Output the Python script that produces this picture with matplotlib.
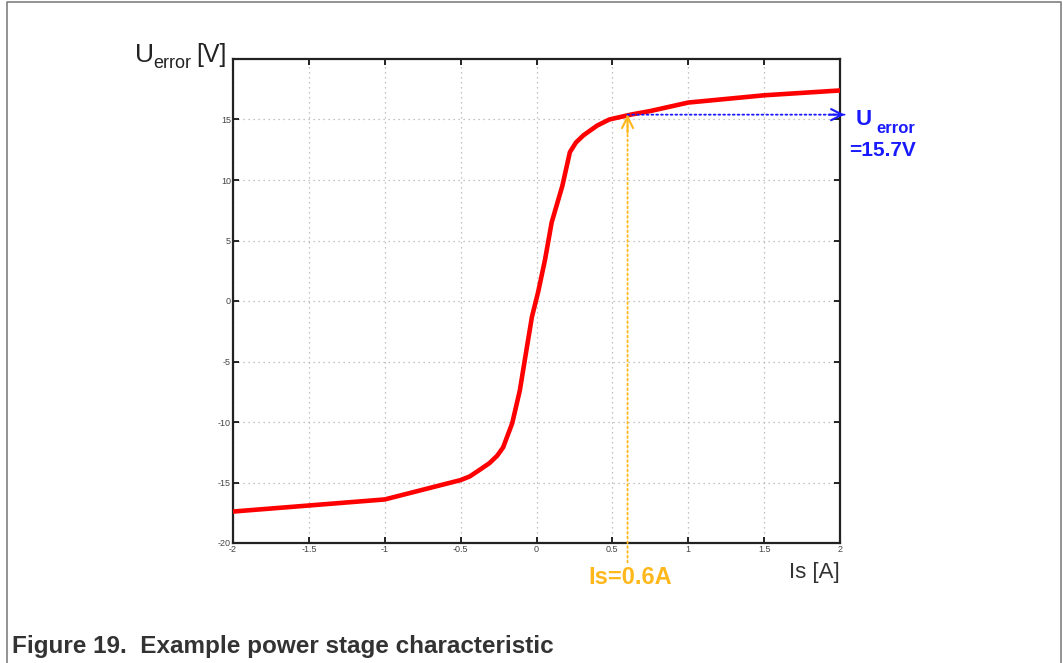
import matplotlib
matplotlib.use("Agg")
import matplotlib.pyplot as plt
from matplotlib.lines import Line2D

plt.rcParams['font.family'] = ['Liberation Sans', 'DejaVu Sans']
plt.rcParams['axes.unicode_minus'] = False

# 特性曲線のデータ (Is [A], Uerror [V])
is_a = [-2.0, -1.5, -1.0, -0.75, -0.5, -0.44, -0.38, -0.31, -0.26, -0.22, -0.16, -0.11,
        -0.063, -0.03, 0.01, 0.056, 0.10, 0.17, 0.22, 0.26, 0.31, 0.40, 0.48, 0.62, 0.75,
        1.0, 1.5, 2.0]
u_err = [-17.4, -16.9, -16.4, -15.6, -14.8, -14.5, -14.0, -13.4, -12.8, -12.1, -10.1, -7.4,
         -3.8, -1.3, 0.7, 3.4, 6.5, 9.5, 12.3, 13.1, 13.7, 14.5, 15.0, 15.4, 15.7,
         16.4, 17.0, 17.4]

x_ticks = [-2, -1.5, -1, -0.5, 0, 0.5, 1, 1.5, 2]
x_labels = ['-2', '-1.5', '-1', '-0.5', '0', '0.5', '1', '1.5', '2']
y_ticks = [-20, -15, -10, -5, 0, 5, 10, 15]

is_op = 0.6
u_op = 15.4

W, H = 1063, 663


def fx(px):
    return px / W


def fy(py):
    return 1 - py / H


def dotted_arrow(ax, start, tip, back, color):
    # 点線の軸と実線の矢じり
    ax.annotate('', xy=tip, xytext=start,
                arrowprops=dict(arrowstyle='-', color=color, lw=1.3, ls=':',
                                shrinkA=0, shrinkB=0),
                annotation_clip=False, zorder=4)
    ax.annotate('', xy=tip, xytext=back,
                arrowprops=dict(arrowstyle='->', color=color, lw=1.5,
                                mutation_scale=20, shrinkA=0, shrinkB=0),
                annotation_clip=False, zorder=4)


fig = plt.figure(figsize=(10.63, 6.63), dpi=100)
ax = fig.add_axes([fx(233), fy(543), (840 - 233) / W, (543 - 59) / H])

ax.plot(is_a, u_err, color='#ff0000', lw=3.3, solid_capstyle='round',
        solid_joinstyle='round', zorder=3)

ax.set_xlim(-2, 2)
ax.set_ylim(-20, 20)
ax.set_xticks(x_ticks)
ax.set_xticklabels(x_labels)
ax.set_yticks(y_ticks)
ax.grid(True, color='#b0b0b0', ls=(0, (1, 3)), lw=0.9)
ax.tick_params(direction='in', length=4, width=1.2, labelsize=6.5, labelcolor='#444444',
               top=True, right=True, pad=1.5)
for s in ax.spines.values():
    s.set_linewidth(1.6)
    s.set_color('#222222')

# 動作点の矢印
dotted_arrow(ax, (is_op, -21.6), (is_op, u_op), (is_op, u_op - 1.5), '#ffb81c')
dotted_arrow(ax, (is_op, u_op), (2.03, u_op), (1.93, u_op), '#1a1aff')

# 注記テキスト
fig.text(fx(588), fy(578), 'Is=0.6A', color='#ffb81c', fontsize=17,
         fontweight='bold', va='center', ha='left')
fig.text(fx(856), fy(125), 'U', color='#1a1aff', fontsize=16,
         fontweight='bold', va='baseline', ha='left')
fig.text(fx(876), fy(133), 'error', color='#1a1aff', fontsize=12,
         fontweight='bold', va='baseline', ha='left')
fig.text(fx(849), fy(156), '=15.7V', color='#1a1aff', fontsize=15,
         fontweight='bold', va='baseline', ha='left')

# 軸ラベル
fig.text(fx(135), fy(62), 'U', color='#222222', fontsize=19, va='baseline', ha='left')
fig.text(fx(153), fy(68), 'error', color='#222222', fontsize=13, va='baseline', ha='left')
fig.text(fx(196), fy(62), '[V]', color='#222222', fontsize=18, va='baseline', ha='left')
fig.text(fx(840), fy(578), 'Is [A]', color='#333333', fontsize=16,
         va='baseline', ha='right')

fig.text(fx(12), fy(653), 'Figure 19.  Example power stage characteristic',
         color='#333333', fontsize=17.5, fontweight='bold', va='baseline', ha='left')

# 外枠
x0, x1, y1 = fx(7), fx(1061), fy(2)
fig.add_artist(Line2D([x0, x0, x1, x1], [0, y1, y1, 0], color='#808080', lw=1.2))

fig.savefig('out.png', dpi=100)
